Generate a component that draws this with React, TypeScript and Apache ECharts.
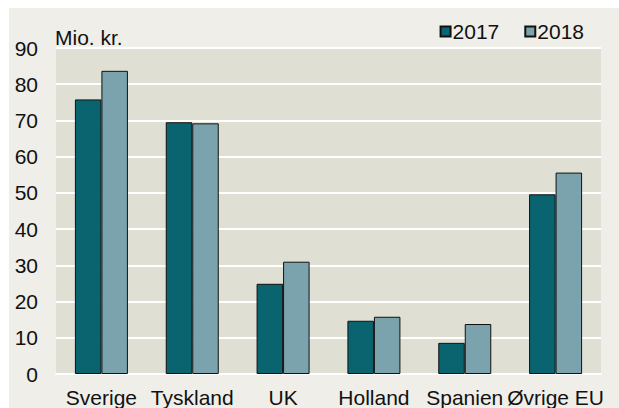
import React, { useEffect, useRef } from "react";
import * as echarts from "echarts";

const categories = ["Sverige", "Tyskland", "UK", "Holland", "Spanien", "Øvrige EU"];
const values2017 = [75.8, 69.5, 24.9, 14.7, 8.6, 49.6];
const values2018 = [83.7, 69.2, 31.0, 15.8, 13.8, 55.6];
const seriesNames = ["2017", "2018"];
const unitLabel = "Mio. kr.";

export default function App() {
  const ref = useRef<HTMLDivElement>(null);
  useEffect(() => {
    const chart = echarts.init(ref.current!, null, { renderer: "svg" });
    const font = "Liberation Sans, Arial, sans-serif";
    chart.setOption({
      animation: false,
      backgroundColor: "#ffffff",
      textStyle: { fontFamily: font },
      graphic: [
        {
          type: "rect",
          z: -10,
          silent: true,
          shape: { x: 9, y: 8, width: 610, height: 400 },
          style: { fill: "#efeee8" },
        },
        {
          type: "text",
          x: 55,
          y: 37,
          style: {
            text: unitLabel,
            font: "21px Liberation Sans, Arial, sans-serif",
            fill: "#111111",
            verticalAlign: "middle",
          },
        },
      ],
      legend: {
        data: seriesNames,
        right: 30,
        top: 16,
        itemWidth: 10,
        itemHeight: 10,
        itemGap: 25,
        icon: "rect",
        textStyle: { fontSize: 21, color: "#111", fontFamily: font, padding: [0, 0, 0, -3] },
      },
      grid: {
        left: 56,
        right: 18,
        top: 48,
        bottom: 34,
        show: true,
        backgroundColor: "#e0dfd4",
        borderWidth: 0,
      },
      xAxis: {
        type: "category",
        data: categories,
        axisLine: { show: true, lineStyle: { color: "#ffffff", width: 2 } },
        axisTick: { show: false },
        axisLabel: { fontSize: 21, color: "#111", margin: 13, interval: 0, fontFamily: font },
      },
      yAxis: {
        type: "value",
        min: 0,
        max: 90,
        interval: 10,
        axisLine: { show: false },
        axisTick: { show: false },
        axisLabel: { fontSize: 21, color: "#111", margin: 18, fontFamily: font },
        splitLine: { lineStyle: { color: "#ffffff", width: 2 } },
      },
      series: [
        {
          name: seriesNames[0],
          type: "bar",
          data: values2017,
          barWidth: 26.5,
          barGap: "0%",
          itemStyle: { color: "#0a6470", borderColor: "#111", borderWidth: 1 },
        },
        {
          name: seriesNames[1],
          type: "bar",
          data: values2018,
          barWidth: 26.5,
          itemStyle: { color: "#7ba3ae", borderColor: "#111", borderWidth: 1 },
        },
      ],
    });
    return () => chart.dispose();
  }, []);
  return (
    <div
      ref={ref}
      style={{ position: "fixed", left: 0, top: 0, width: 619, height: 408 }}
    />
  );
}
